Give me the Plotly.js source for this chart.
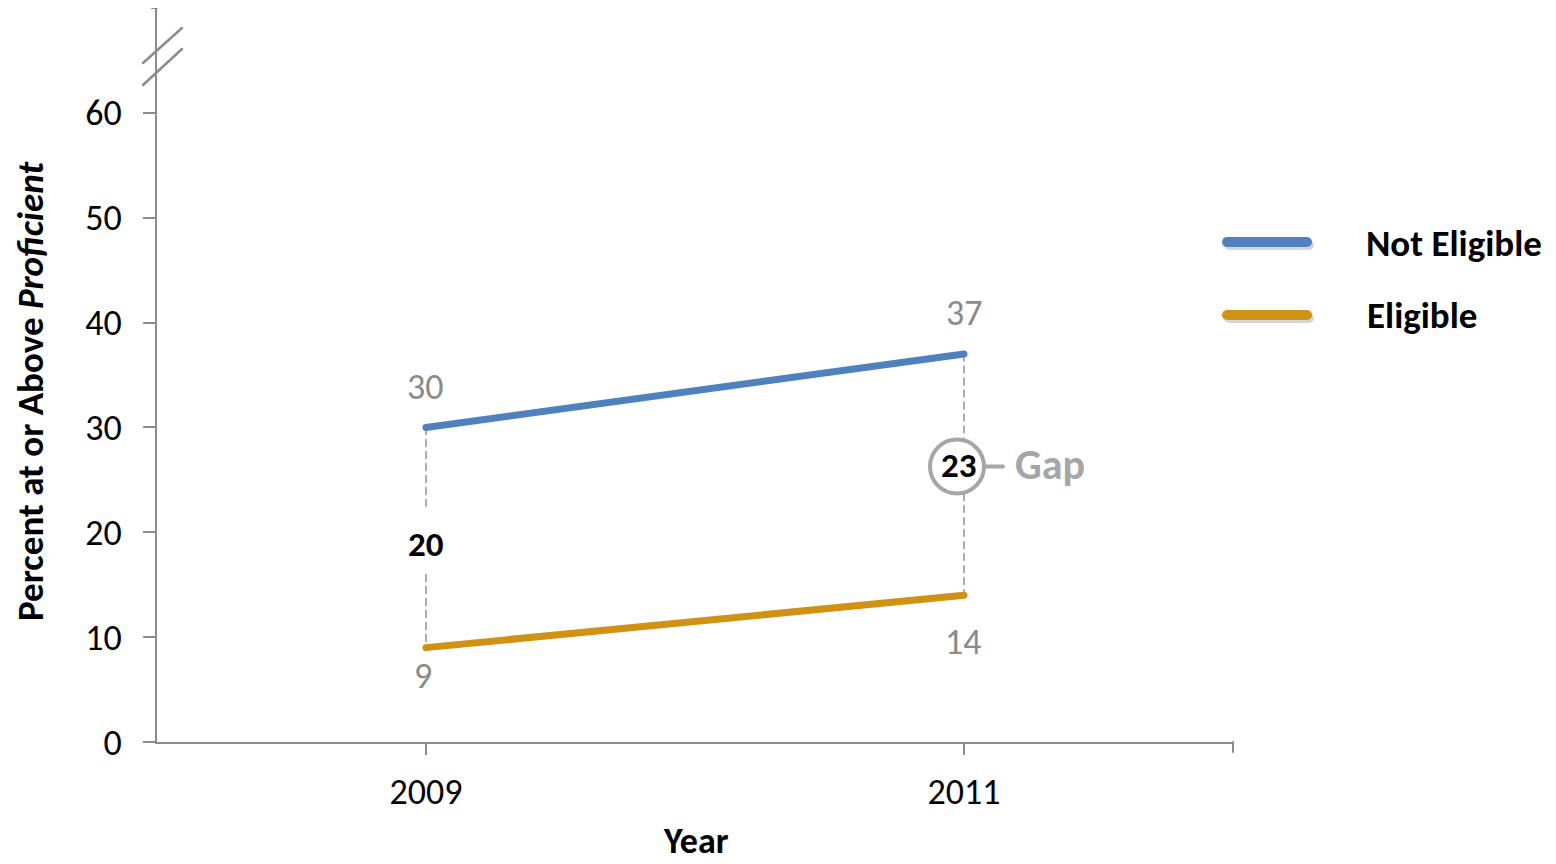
<!DOCTYPE html>
<html>
<head>
<meta charset="utf-8">
<script src="https://cdn.plot.ly/plotly-3.0.1.min.js"></script>
<style>
  html, body { margin: 0; padding: 0; background: #fff; }
  #chart { width: 1556px; height: 864px; }
  .scatterlayer .js-line { stroke-linecap: round !important; }
  .shapelayer path { stroke-linecap: round !important; }
</style>
</head>
<body>
<div id="chart"></div>
<script>
// ---- data ----
const years = ['2009', '2011'];
const notEligible = [30, 37];
const eligible = [9, 14];
const gapLabels = [20, 23];
const seriesNames = ['Not Eligible', 'Eligible'];
const yTicks = [0, 10, 20, 30, 40, 50, 60];

// ---- style ----
const FONT = 'Carlito, Lato, "Noto Sans", sans-serif';
const BLUE = '#4F81BD';
const ORANGE = '#CF9214';
const AXIS = '#8C8C8C';
const LABEL_GRAY = '#8A8A8A';
const M = {l: 157, r: 323, t: 8, b: 122};
const W = 1556, H = 864;
const plotW = W - M.l - M.r, plotH = H - M.t - M.b;
const Y_MAX = 70;
const unitPerPx = Y_MAX / plotH;
const px2paperX = p => (p - M.l) / plotW;
const px2paperY = p => (H - M.b - p) / plotH;
const idx = years.map((_, i) => i); // category positions on the x axis

const traces = [];
// gap dashed connectors (broken around the gap label)
const gapHalf = [[37, 30], [28, 27]]; // px above / below label centre
const gapShift = [-7, 8];             // px shift of label from midpoint
const gapMid = years.map((yr, i) => (notEligible[i] + eligible[i]) / 2 + gapShift[i] * unitPerPx);
years.forEach((yr, i) => {
  const dashStyle = {color: AXIS, width: 1.4, dash: '7px,5px'};
  traces.push({x: [yr, yr], y: [notEligible[i], gapMid[i] + gapHalf[i][0] * unitPerPx],
    mode: 'lines', line: dashStyle, showlegend: false, hoverinfo: 'skip'});
  traces.push({x: [yr, yr], y: [gapMid[i] - gapHalf[i][1] * unitPerPx, eligible[i]],
    mode: 'lines', line: dashStyle, showlegend: false, hoverinfo: 'skip'});
});
traces.push({x: years, y: notEligible, name: seriesNames[0], mode: 'lines',
  line: {color: BLUE, width: 7}, showlegend: false});
traces.push({x: years, y: eligible, name: seriesNames[1], mode: 'lines',
  line: {color: ORANGE, width: 7}, showlegend: false});

const annotations = [];
// value labels
const topShift = [40, 41];
const botShift = [-28, -47];
const labelDx = [[-1, -3], [0, -1]];
years.forEach((yr, i) => {
  annotations.push({x: idx[i], y: notEligible[i], text: String(notEligible[i]), showarrow: false,
    yshift: topShift[i], xshift: labelDx[i][0], font: {family: FONT, size: 36, color: LABEL_GRAY}});
  annotations.push({x: idx[i], y: eligible[i], text: String(eligible[i]), showarrow: false,
    yshift: botShift[i], xshift: labelDx[i][1], font: {family: FONT, size: 36, color: LABEL_GRAY}});
});
// gap labels
annotations.push({x: idx[0], y: gapMid[0], text: '<b>' + gapLabels[0] + '</b>', showarrow: false,
  yshift: 1, font: {family: FONT, size: 35, color: '#000'}});
annotations.push({x: idx[1], y: gapMid[1], text: '<b>' + gapLabels[1] + '</b>', showarrow: false,
  xshift: -6, yshift: 2, font: {family: FONT, size: 35, color: '#000'}});
annotations.push({x: idx[1], y: gapMid[1], text: '<b>Gap</b>', showarrow: false,
  xanchor: 'left', xshift: 49, yshift: 2, font: {family: FONT, size: 42, color: '#A6A6A6'}});

// legend text
annotations.push({xref: 'paper', yref: 'paper', x: px2paperX(1364), y: px2paperY(243),
  xanchor: 'left', yanchor: 'middle', showarrow: false, text: '<b>' + seriesNames[0] + '</b>',
  font: {family: FONT, size: 37, color: '#000'}});
annotations.push({xref: 'paper', yref: 'paper', x: px2paperX(1365), y: px2paperY(315),
  xanchor: 'left', yanchor: 'middle', showarrow: false, text: '<b>' + seriesNames[1] + '</b>',
  font: {family: FONT, size: 37, color: '#000'}});

// axis titles
annotations.push({xref: 'paper', yref: 'paper', x: px2paperX(30), y: px2paperY(391),
  xanchor: 'center', yanchor: 'middle', textangle: -90, showarrow: false,
  text: '<b>Percent at or Above <i>Proficient</i></b>', font: {family: FONT, size: 37, color: '#000'}});
annotations.push({xref: 'paper', yref: 'paper', x: px2paperX(696), y: px2paperY(864),
  xanchor: 'center', yanchor: 'bottom', showarrow: false, borderpad: 0,
  text: '<b>Year</b>', font: {family: FONT, size: 36, color: '#000'}});

const shapes = [
  // top cap tick of y axis
  {type: 'line', xref: 'paper', yref: 'y', xsizemode: 'pixel', xanchor: 0, x0: -5, x1: 0,
    y0: Y_MAX, y1: Y_MAX, line: {color: AXIS, width: 2}},
  // axis break marks
  {type: 'line', xref: 'paper', yref: 'y', xsizemode: 'pixel', ysizemode: 'pixel', xanchor: 0, yanchor: Y_MAX,
    x0: -14, x1: 25, y0: -55, y1: -20, line: {color: AXIS, width: 2.5}},
  {type: 'line', xref: 'paper', yref: 'y', xsizemode: 'pixel', ysizemode: 'pixel', xanchor: 0, yanchor: Y_MAX,
    x0: -14, x1: 25, y0: -77, y1: -41, line: {color: AXIS, width: 2.5}},
  // right end tick of x axis
  {type: 'line', xref: 'paper', yref: 'paper', ysizemode: 'pixel', yanchor: 0, x0: 1, x1: 1,
    y0: 0, y1: -10, line: {color: AXIS, width: 2}},
  // gap circle
  {type: 'circle', xref: 'x', yref: 'y', xsizemode: 'pixel', ysizemode: 'pixel',
    xanchor: idx[1], yanchor: gapMid[1], x0: -34, x1: 20, y0: -27, y1: 27,
    line: {color: '#A6A6A6', width: 4}, fillcolor: 'rgba(255,255,255,0)'},
  // gap connector
  {type: 'line', xref: 'x', yref: 'y', xsizemode: 'pixel', ysizemode: 'pixel',
    xanchor: idx[1], yanchor: gapMid[1], x0: 21, x1: 39, y0: 0, y1: 0,
    line: {color: '#A6A6A6', width: 4}},
];
// legend samples (shadow + line), round caps add half width at each end
[[BLUE, 242], [ORANGE, 315]].forEach(([c, py]) => {
  shapes.push({type: 'line', xref: 'paper', yref: 'paper', x0: px2paperX(1229), x1: px2paperX(1309),
    y0: px2paperY(py + 3), y1: px2paperY(py + 3), line: {color: 'rgba(0,0,0,0.16)', width: 10}});
  shapes.push({type: 'line', xref: 'paper', yref: 'paper', x0: px2paperX(1227), x1: px2paperX(1307),
    y0: px2paperY(py), y1: px2paperY(py), line: {color: c, width: 10}});
});

const layout = {
  width: W, height: H,
  margin: M,
  paper_bgcolor: '#fff', plot_bgcolor: '#fff',
  showlegend: false,
  font: {family: FONT, color: '#000'},
  xaxis: {
    type: 'category', range: [-0.5, 1.5], showgrid: false, zeroline: false,
    showline: true, linecolor: AXIS, linewidth: 2,
    ticks: 'outside', ticklen: 11, tickwidth: 2, tickcolor: AXIS,
    tickfont: {family: FONT, size: 36, color: '#000'}, ticklabelstandoff: 6
  },
  yaxis: {
    range: [0, Y_MAX], showgrid: false, zeroline: false,
    showline: true, linecolor: AXIS, linewidth: 2,
    tickmode: 'array', tickvals: yTicks, ticktext: yTicks.map(String),
    ticks: 'outside', ticklen: 12, tickwidth: 2, tickcolor: AXIS,
    tickfont: {family: FONT, size: 36, color: '#000'}, ticklabelstandoff: 14
  },
  shapes: shapes,
  annotations: annotations
};

Plotly.newPlot('chart', traces, layout, {displayModeBar: false, staticPlot: true});
</script>
</body>
</html>
